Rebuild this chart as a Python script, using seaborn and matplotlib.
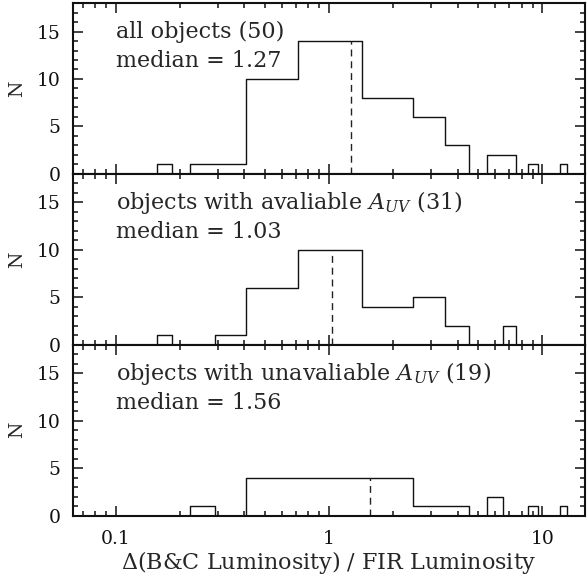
import numpy as np
import pandas as pd
import matplotlib
matplotlib.use("Agg")
import matplotlib.pyplot as plt
import seaborn as sns
from matplotlib.ticker import LogLocator, MultipleLocator, FuncFormatter, NullFormatter

# ---- data ----
bin_edges = [0.0631, 0.156, 0.183, 0.223, 0.290, 0.406, 0.711, 1.426, 2.47,
             3.50, 4.51, 5.50, 6.52, 7.53, 8.54, 9.58, 12.07, 13.0, 15.85]
counts_all = [0, 1, 0, 1, 1, 10, 14, 8, 6, 3, 0, 2, 2, 0, 1, 0, 1, 0]
counts_avail = [0, 1, 0, 0, 1, 6, 10, 4, 5, 2, 0, 0, 2, 0, 0, 0, 0, 0]
counts_unavail = [0, 0, 0, 1, 0, 4, 4, 4, 1, 1, 0, 2, 0, 0, 1, 0, 1, 0]
medians = [1.27, 1.03, 1.56]
titles = ["all objects (50)",
          r"objects with avaliable $A_{UV}$ (31)",
          r"objects with unavaliable $A_{UV}$ (19)"]
median_labels = ["median = 1.27", "median = 1.03", "median = 1.56"]
ytick_vals = [0, 5, 10, 15]

sns.set_style("ticks")
plt.rcParams["font.family"] = ["DejaVu Serif", "DejaVu Sans"]
plt.rcParams["mathtext.fontset"] = "dejavuserif"

edges = np.array(bin_edges)
centers = np.sqrt(edges[:-1] * edges[1:])
all_counts = [counts_all, counts_avail, counts_unavail]
log_bins = [float(v) for v in np.log10(edges)]

fig = plt.figure(figsize=(5.87, 5.84), dpi=100)
left, width, height = 0.1249, 0.8717, 0.2926
bottoms = [0.7022, 0.4096, 0.1170]

for i in range(3):
    ax = fig.add_axes([left, bottoms[i], width, height])
    cnt = np.array(all_counts[i], dtype=float)
    df = pd.DataFrame({"ratio": centers, "n": cnt})
    sns.histplot(data=df, x="ratio", weights="n", bins=log_bins, log_scale=True,
                 element="step", fill=False, color="#111111", linewidth=1.0, ax=ax)
    # median dashed line up to the bin height
    idx = np.searchsorted(edges, medians[i]) - 1
    ax.vlines(medians[i], 0, cnt[idx], colors="#222222", linewidth=1.0,
              linestyles=(0, (5, 3.5)))
    ax.set_xlim(10 ** -1.2, 10 ** 1.2)
    ax.set_ylim(0, 18)
    ax.xaxis.set_major_locator(LogLocator(base=10, numticks=10))
    ax.xaxis.set_minor_locator(LogLocator(base=10, subs=np.arange(2, 10), numticks=20))
    ax.set_yticks(ytick_vals)
    ax.set_yticklabels([str(v) for v in ytick_vals])
    ax.yaxis.set_minor_locator(MultipleLocator(1))
    ax.tick_params(which="both", direction="in", top=True, right=True,
                   width=1.1, colors="#111111")
    ax.tick_params(which="major", length=7.5)
    ax.tick_params(which="minor", length=3.8)
    ax.tick_params(axis="y", which="major", labelsize=13.5, pad=9)
    ax.tick_params(axis="x", which="major", labelsize=13.5, pad=10)
    for s in ax.spines.values():
        s.set_linewidth(1.5)
        s.set_color("#111111")
    ax.set_ylabel("N", fontsize=13.5)
    ax.yaxis.set_label_coords(-0.092, 0.5)
    ax.text(0.083, 0.796, titles[i], transform=ax.transAxes, fontsize=16,
            va="baseline", ha="left")
    ax.text(0.083, 0.626, median_labels[i], transform=ax.transAxes, fontsize=16,
            va="baseline", ha="left")
    ax.xaxis.set_minor_formatter(NullFormatter())
    if i == 2:
        ax.xaxis.set_major_formatter(FuncFormatter(lambda v, p: f"{v:g}"))
        ax.set_xlabel(r"$\Delta$(B&C Luminosity) / FIR Luminosity", fontsize=16)
        ax.xaxis.set_label_coords(0.5, -0.195)
    else:
        ax.xaxis.set_major_formatter(NullFormatter())
        ax.set_xlabel("")

fig.savefig("out.png", dpi=100)
